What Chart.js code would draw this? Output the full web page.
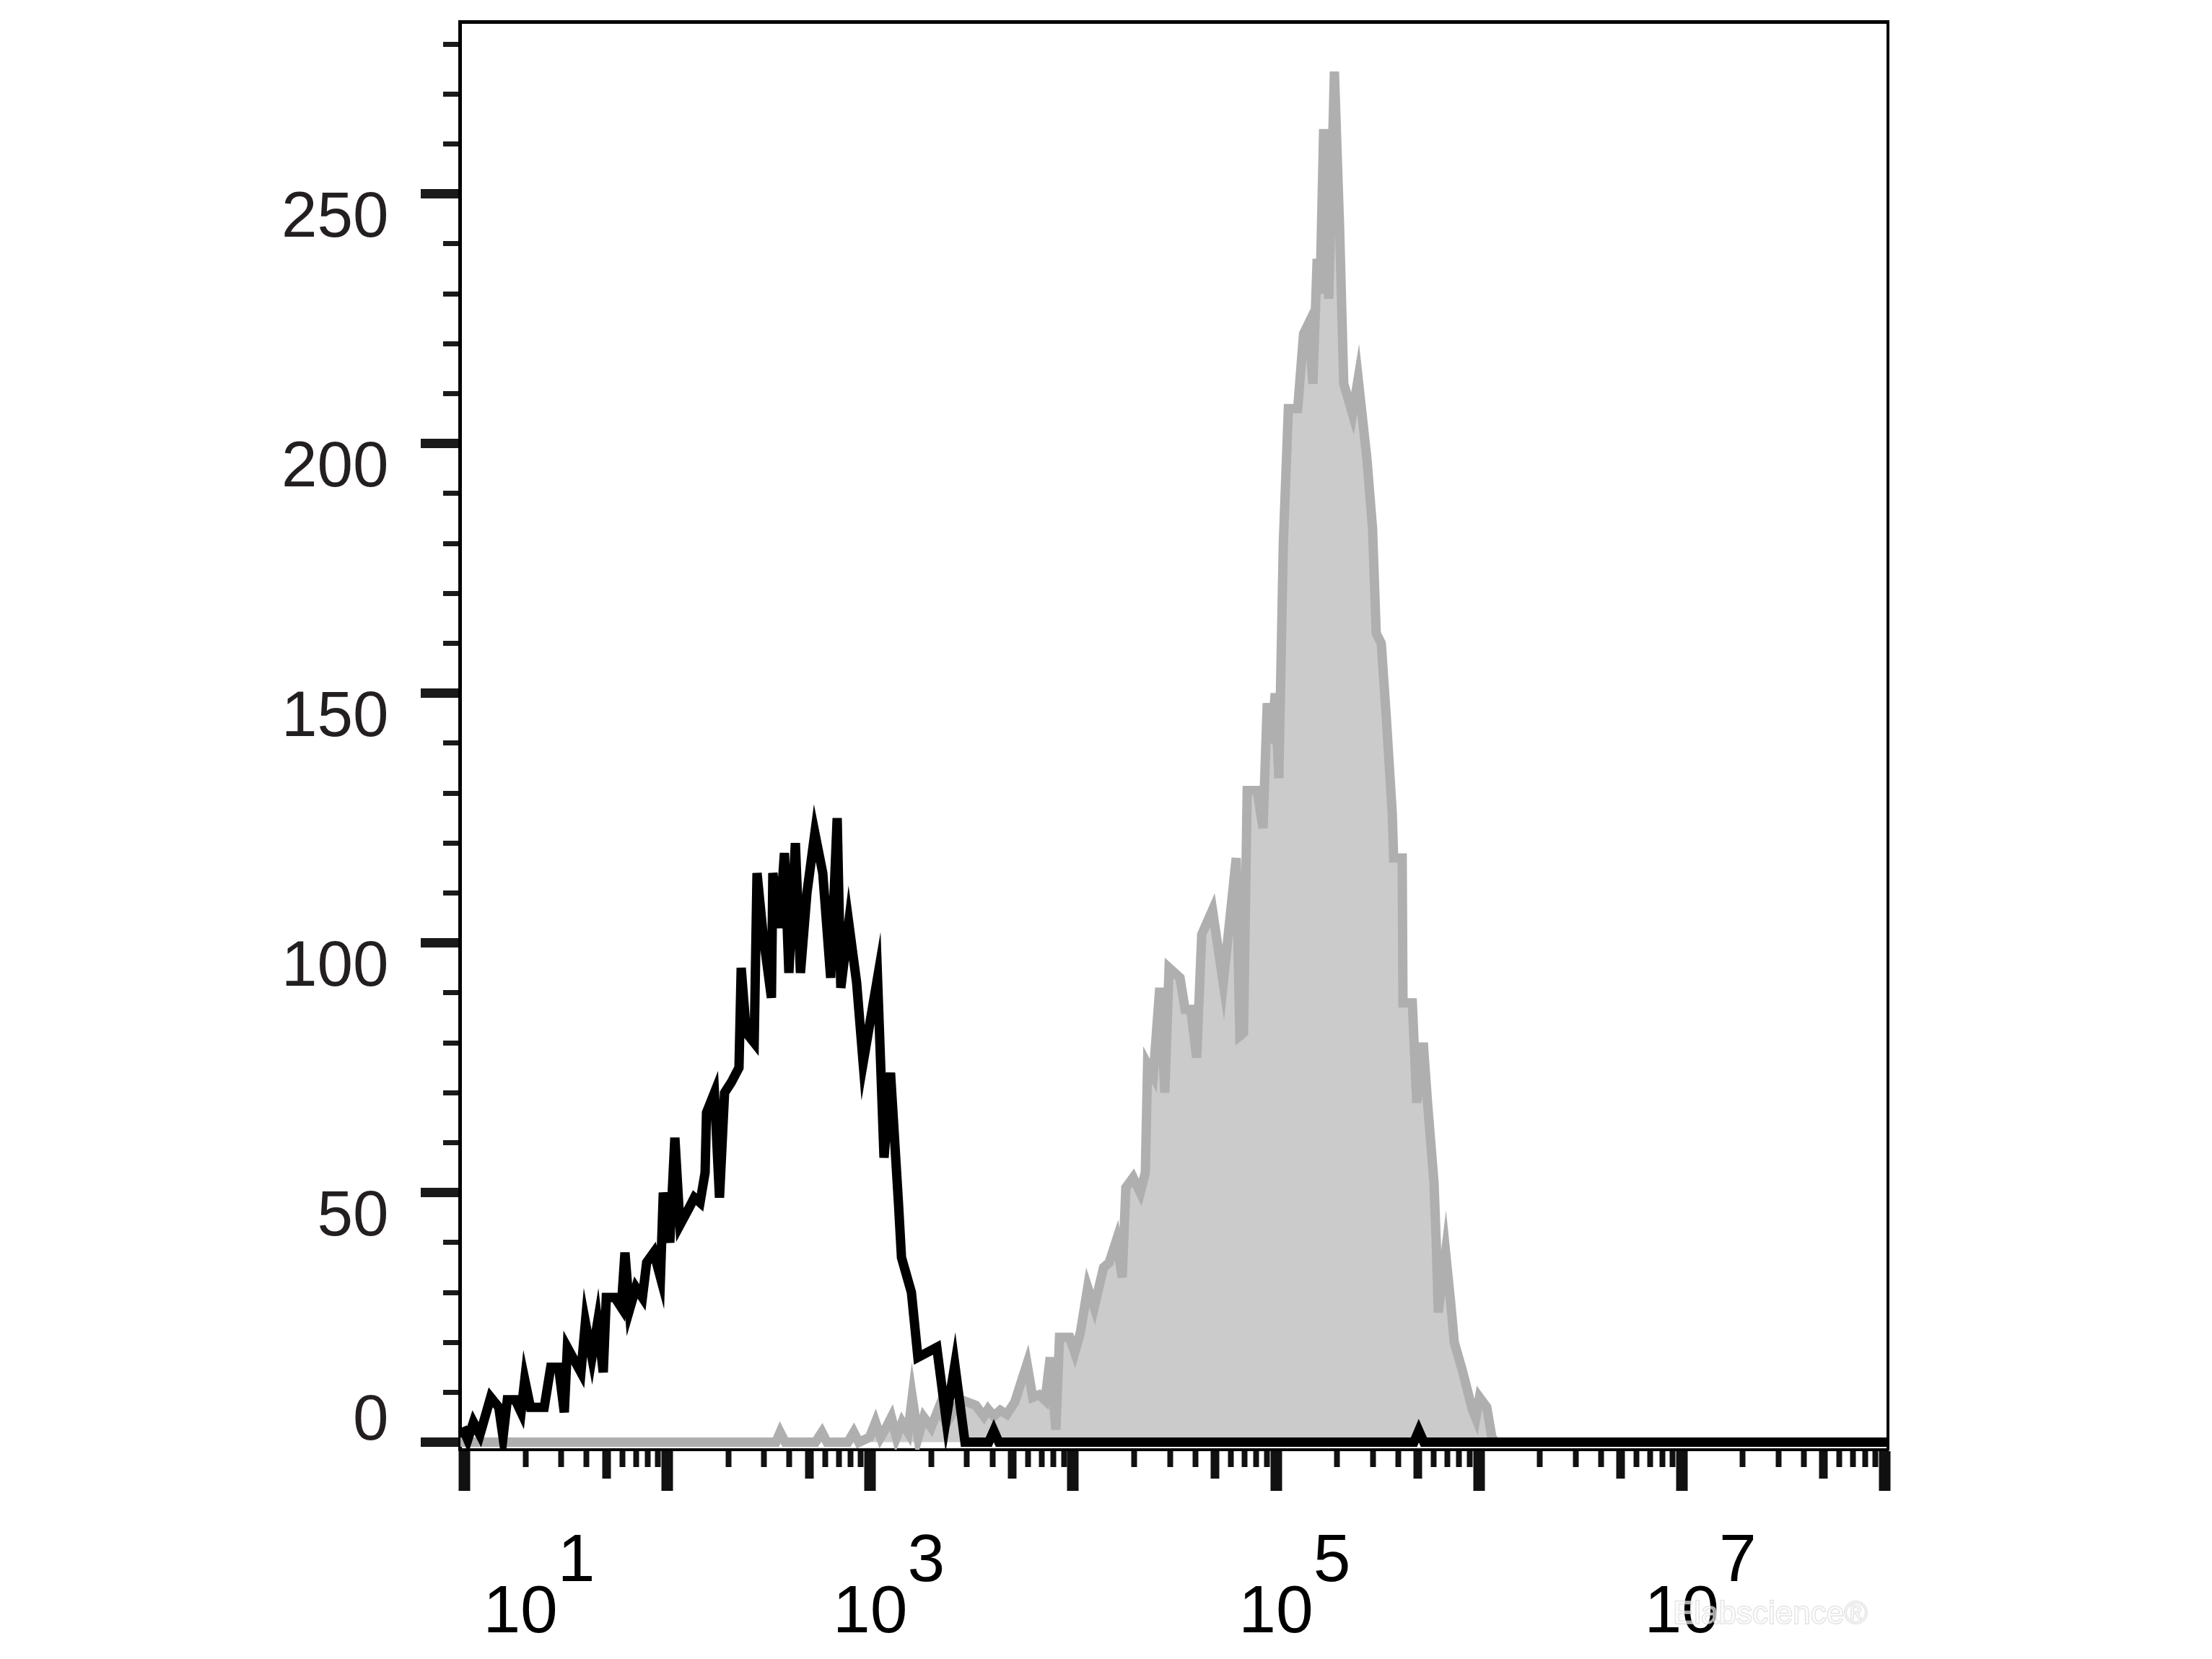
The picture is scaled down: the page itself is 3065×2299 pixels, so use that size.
<!DOCTYPE html>
<html>
<head>
<meta charset="utf-8">
<script src="https://cdn.jsdelivr.net/npm/chart.js@4.4.1/dist/chart.umd.min.js"></script>
<style>
  html, body { margin: 0; padding: 0; background: #ffffff; }
  canvas { display: block; }
</style>
</head>
<body>
<canvas id="c" width="3065" height="2299" style="width:3065px;height:2299px"></canvas>
<script>
// ---- data (x in decades: log10 of fluorescence intensity) ----
const blackLog = [0.99,1.016,1.044,1.076,1.129,1.169,1.190,1.211,1.250,1.279,1.297,1.325,1.393,1.425,1.464,1.492,1.507,1.574,1.596,1.628,1.656,1.684,1.699,1.741,1.773,1.791,1.813,1.845,1.877,1.898,1.933,1.966,1.980,2.012,2.037,2.062,2.108,2.133,2.161,2.186,2.193,2.232,2.257,2.282,2.314,2.353,2.364,2.389,2.428,2.442,2.471,2.513,2.520,2.552,2.577,2.599,2.631,2.656,2.688,2.727,2.766,2.805,2.837,2.855,2.894,2.933,2.965,3.036,3.068,3.100,3.139,3.154,3.203,3.235,3.328,3.374,3.417,3.467,3.584,3.609,3.634,5.680,5.704,5.729,8.02];
const blackCounts = [3,0.5,4,1.5,9,7,1,8.5,8.5,6,12.5,7,7,15,15,6,19,14,24,17,24,14,29,29,27,38,26.5,31,29,36,38,33,50,40,61,43.5,47,49,48,54,66,70,49,70,72,75,95,82,80,114,102,89,114,103,118,94,120,94,110,122,114,93,125,91,104,92,76,93,57,74,48,37,30,17,19,4.6,15.5,0,0,2.3,0,0,2.3,0,0];

const grayLog = [0.98,2.535,2.556,2.581,2.730,2.762,2.787,2.890,2.919,2.944,2.997,3.026,3.051,3.079,3.104,3.129,3.157,3.186,3.207,3.236,3.264,3.300,3.339,3.375,3.407,3.449,3.520,3.560,3.581,3.609,3.641,3.673,3.712,3.773,3.801,3.833,3.862,3.887,3.915,3.933,3.983,4.008,4.036,4.072,4.104,4.150,4.178,4.214,4.242,4.260,4.296,4.331,4.356,4.367,4.395,4.427,4.452,4.473,4.527,4.552,4.580,4.609,4.634,4.687,4.740,4.804,4.822,4.840,4.858,4.907,4.936,4.957,4.978,4.996,5.014,5.036,5.061,5.107,5.136,5.160,5.182,5.203,5.217,5.235,5.260,5.288,5.313,5.334,5.377,5.405,5.448,5.476,5.494,5.519,5.544,5.573,5.580,5.622,5.626,5.672,5.694,5.726,5.747,5.779,5.790,5.800,5.836,5.861,5.879,5.921,5.968,5.985,6.003,6.039,6.064,6.082,8.02];
const grayCounts = [0,0,2,0,0,2,0,0,2,0,1,4,1,3,5,1,4,2,9,1,5,3,7,3.7,6,8.5,7.4,5.2,6.6,5.2,6.4,5.6,8,15.7,9,9.5,8.4,17,2.5,21,21,18,22,31,27,35,36,40.5,33,51,53,50,54,75.6,73.4,91,70,95,93,86.7,86.7,77,101.7,106.6,92,117,81.4,82,130.5,130.5,123,148,140,150,133,180,207,207,222,224,212,237,230,263,229,274.5,244,212,206,213,197,183,162,160,145,126,117,117,88,88,68,80,68,52,40,26,38,28,20,14,6.5,4.8,9,7,1,0,0];

const yTickValues = [0,10,20,30,40,50,60,70,80,90,100,110,120,130,140,150,160,170,180,190,200,210,220,230,240,250,260,270,280];
const yLabelValues = [0,50,100,150,200,250];
const xDecades = [1,2,3,4,5,6,7];
const xLabelDecades = [1,3,5,7];
const xMultipliers = [1,2,3,4,5,6,7,8,9];

// ---- derived structures for the library ----
const FONT = "'Liberation Sans', Arial, Helvetica, sans-serif";
const NB = '\u00A0';
const EN = '\u2002';
const pad = n => NB.repeat(n);

const xTicks = [];
xDecades.forEach(d => {
  xMultipliers.forEach(m => {
    let label = '';
    if (m === 1 && xLabelDecades.includes(d)) {
      label = d === 1 ? [pad(12) + String(d), pad(6) + '10'] : [pad(6) + String(d), '10'];
    }
    xTicks.push({ value: m * Math.pow(10, d), kind: m === 1 ? 'major' : (m === 5 ? 'mid' : 'minor'), label });
  });
});
xTicks.push({ value: Math.pow(10, 8), kind: 'major', label: '' });

const kindOf = v => {
  const t = xTicks.find(t => Math.abs(t.value - v) <= 1e-9 * v);
  return t ? t.kind : 'minor';
};

const blackPts = blackLog.map((d, i) => ({ x: Math.pow(10, d), y: blackCounts[i] }));
const grayPts = grayLog.map((d, i) => ({ x: Math.pow(10, d), y: grayCounts[i] }));

const watermark = {
  id: 'watermark',
  afterDraw(chart) {
    const ctx = chart.ctx;
    ctx.save();
    ctx.font = "44px " + FONT;
    ctx.textBaseline = 'alphabetic';
    ctx.lineWidth = 2;
    ctx.strokeStyle = 'rgba(200,200,200,0.55)';
    ctx.fillStyle = 'rgba(255,255,255,0.6)';
    ctx.strokeText('Elabscience\u00AE', 2318, 2250);
    ctx.fillText('Elabscience\u00AE', 2318, 2250);
    ctx.restore();
  }
};

new Chart(document.getElementById('c'), {
  type: 'line',
  data: {
    datasets: [
      {
        label: 'control',
        data: blackPts,
        borderColor: '#000000',
        borderWidth: 13,
        fill: false,
        pointRadius: 0,
        tension: 0,
        borderJoinStyle: 'miter'
      },
      {
        label: 'stained',
        data: grayPts,
        borderColor: '#afafaf',
        backgroundColor: '#cbcbcb',
        borderWidth: 13,
        fill: 'origin',
        pointRadius: 0,
        tension: 0,
        borderJoinStyle: 'miter'
      }
    ]
  },
  options: {
    responsive: false,
    animation: false,
    devicePixelRatio: 1,
    layout: { padding: 0 },
    plugins: { legend: { display: false }, tooltip: { enabled: false }, title: { display: false } },
    scales: {
      x: {
        type: 'logarithmic',
        position: 'bottom',
        min: Math.pow(10, 0.9765),
        max: Math.pow(10, 8.0165),
        afterBuildTicks: s => { s.ticks = xTicks.map(t => ({ value: t.value })); },
        afterFit: s => { s.height = 290; },
        ticks: {
          autoSkip: false, maxRotation: 0, minRotation: 0, padding: 64,
          color: '#000000',
          font: { family: FONT, size: 93, lineHeight: 0.76 },
          callback: (v, i) => (xTicks[i] ? xTicks[i].label : '')
        },
        grid: {
          display: true, drawOnChartArea: false, drawTicks: true, tickLength: 57,
          tickColor: '#111111',
          tickWidth: c => { const k = kindOf(c.tick.value); return k === 'major' ? 16 : (k === 'mid' ? 12 : 8); },
          tickBorderDash: c => { const k = kindOf(c.tick.value); return k === 'major' ? [] : (k === 'mid' ? [38, 1000] : [22, 1000]); }
        },
        border: { display: true, color: '#000000', width: 4 }
      },
      xTop: {
        type: 'linear', position: 'top', min: 0, max: 1, display: true,
        afterFit: s => { s.height = 30; },
        ticks: { display: false },
        grid: { display: false },
        border: { display: true, color: '#000000', width: 5 }
      },
      y: {
        type: 'linear',
        position: 'left',
        min: -1.5,
        max: 284.5,
        afterBuildTicks: s => { s.ticks = yTickValues.map(v => ({ value: v })); },
        afterFit: s => { s.width = 637; },
        ticks: {
          autoSkip: false,
          padding: 0,
          labelOffset: 35,
          color: '#231f20',
          font: c => {
            const v = c.tick ? c.tick.value : null;
            let lh = 0.05;
            if (v === 0) lh = 1.43;
            else if (yLabelValues.includes(v)) lh = 0.3;
            return { family: FONT, size: 89, lineHeight: lh };
          },
          callback: v => yLabelValues.includes(v) ? (v === 0 ? ['0' + EN, ''] : String(v) + EN) : ''
        },
        grid: {
          display: true, drawOnChartArea: false, drawTicks: true, tickLength: 54,
          tickColor: '#1a1a1a',
          tickWidth: c => (c.tick.value % 50 === 0 ? 13 : 7),
          tickBorderDash: c => (c.tick.value % 50 === 0 ? [] : [0, 31, 40, 1000])
        },
        border: { display: true, color: '#000000', width: 5 }
      },
      yRight: {
        type: 'linear', position: 'right', min: -1.5, max: 284.5, display: true,
        afterFit: s => { s.width = 449; },
        ticks: { display: false },
        grid: { display: false },
        border: { display: true, color: '#000000', width: 4 }
      }
    }
  },
  plugins: [watermark]
});
</script>
</body>
</html>
